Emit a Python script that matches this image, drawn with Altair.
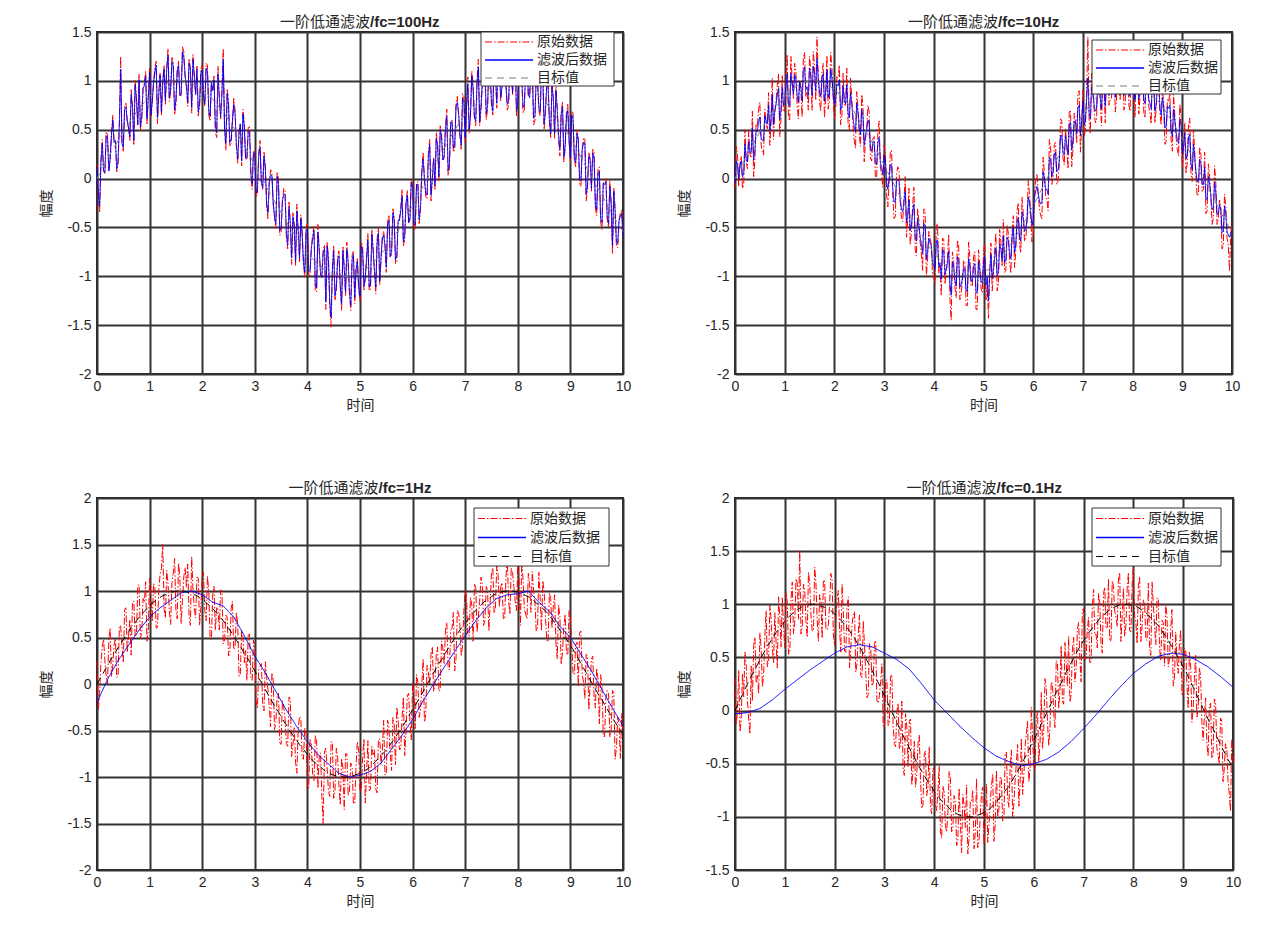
import altair as alt
import pandas as pd

# ---------------- data ----------------
RAW_STEP = 0.05    # sampling step of the noisy series and of the target (s)
MID_START = 0.025  # the *_MID samples lie half-way between the main samples

RAW_1 = [0.15, -0.35, 0.40, 0.05, 0.45, 0.20, 0.65, 0.39, 0.14, 1.25,
         0.28, 0.77, 0.51, 0.91, 0.34, 0.83, 1.07, 0.60, 0.98, 0.56,
         1.14, 0.77, 1.14, 0.56, 1.08, 1.00, 0.76, 1.33, 0.89, 1.19,
         0.75, 1.20, 0.85, 1.30, 0.94, 1.23, 0.67, 1.06, 1.15, 0.73,
         1.16, 0.74, 1.16, 0.59, 0.91, 0.48, 1.15, 0.61, 1.33, 0.29,
         0.80, 0.36, 0.82, 0.32, 0.48, 0.13, 0.58, 0.19, 0.54, -0.11,
         0.29, -0.16, 0.39, -0.11, 0.14, -0.41, 0.09, -0.26, -0.51, 0.00,
         -0.55, -0.10, -0.59, -0.24, -0.88, -0.47, -0.26, -0.85, -0.54, -1.02,
         -0.46, -0.99, -0.57, -1.15, -0.47, -0.99, -0.72, -1.34, -0.80, -1.52,
         -0.68, -1.14, -0.74, -1.35, -0.90, -0.65, -1.20, -0.79, -1.28, -0.82,
         -1.26, -0.69, -1.03, -0.56, -1.13, -0.71, -1.18, -0.50, -0.82, -0.54,
         -0.96, -0.37, -0.78, -0.39, -0.85, -0.41, -0.11, -0.62, -0.12, -0.42,
         -0.03, -0.53, -0.03, -0.33, 0.27, -0.18, 0.27, -0.23, 0.22, 0.47,
         -0.03, 0.46, 0.21, 0.71, 0.10, 0.60, 0.29, 0.84, 0.43, 0.87,
         0.36, 1.04, 0.63, 0.96, 0.54, 1.22, 0.70, 0.98, 0.60, 1.17,
         0.74, 1.26, 0.72, 1.13, 0.94, 1.25, 0.70, 1.20, 0.85, 1.29,
         0.74, 1.13, 0.67, 1.20, 0.84, 1.22, 0.55, 1.07, 0.70, 1.17,
         0.50, 0.97, 0.58, 1.00, 0.41, 0.72, 0.23, 0.79, 0.30, 0.76,
         0.16, 0.67, 0.12, 0.42, -0.08, 0.42, -0.23, 0.27, -0.13, 0.27,
         -0.38, 0.12, -0.52, -0.02, -0.42, -0.02, -0.77, -0.31, -0.71, -0.35, -0.59]
RAW_1_MID = [-0.18, 0.18, 0.08, 0.48, 0.08, 0.48, 0.37, 0.07, 0.56, 0.36,
             0.75, 0.59, 0.39, 0.73, 1.01, 0.55, 0.49, 0.92, 1.10, 0.83,
             0.61, 0.98, 1.20, 0.87, 0.64, 1.16, 1.12, 0.79, 1.24, 0.65,
             1.10, 0.85, 1.35, 1.05, 0.74, 1.13, 1.27, 0.86, 0.64, 1.12,
             0.85, 1.18, 0.65, 0.98, 1.05, 0.42, 0.83, 0.90, 0.51, 0.92,
             0.33, 0.59, 0.70, 0.15, 0.56, 0.71, 0.21, 0.52, 0.02, 0.27,
             -0.19, 0.27, -0.04, 0.27, -0.29, -0.04, 0.07, -0.39, 0.07, -0.58,
             -0.23, -0.12, -0.72, -0.46, -0.35, -0.89, -0.53, -0.37, -0.86, -0.49,
             -0.98, -0.71, -0.49, -1.16, -0.73, -1.01, -0.68, -0.65, -1.31, -0.93,
             -1.24, -0.79, -1.10, -0.70, -1.20, -0.85, -1.35, -0.74, -0.93, -1.12,
             -0.65, -1.14, -0.82, -1.15, -0.52, -0.95, -0.62, -1.09, -0.61, -0.68,
             -0.44, -0.80, -0.31, -0.87, -0.43, -0.29, -0.69, -0.25, -0.45, 0.00,
             -0.51, -0.06, -0.46, 0.10, 0.00, -0.21, 0.40, 0.00, -0.11, 0.35,
             0.54, 0.19, 0.54, 0.03, 0.58, 0.27, 0.77, 0.66, 0.30, 0.84,
             0.73, 0.46, 1.10, 0.63, 1.01, 0.54, 0.97, 1.14, 0.71, 1.08,
             0.65, 1.07, 1.23, 0.79, 1.35, 0.95, 0.75, 1.20, 1.15, 0.64,
             1.19, 1.03, 0.71, 1.25, 0.83, 1.16, 0.59, 1.01, 0.64, 1.11,
             0.69, 1.00, 0.42, 0.83, 0.94, 0.40, 0.66, 0.17, 0.68, 0.39,
             0.69, 0.20, 0.50, -0.06, 0.30, 0.40, -0.11, 0.20, 0.30, -0.31,
             0.10, -0.45, -0.05, 0.01, -0.50, -0.25, -0.09, -0.69, -0.43, -0.32]

FILT_1 = [0.12, -0.28, 0.36, 0.06, 0.41, 0.20, 0.60, 0.39, 0.18, 1.12,
          0.32, 0.73, 0.52, 0.86, 0.39, 0.81, 1.01, 0.63, 0.95, 0.61,
          1.09, 0.79, 1.09, 0.62, 1.06, 0.99, 0.80, 1.26, 0.91, 1.15,
          0.80, 1.16, 0.88, 1.24, 0.95, 1.18, 0.73, 1.04, 1.12, 0.77,
          1.11, 0.77, 1.10, 0.64, 0.90, 0.54, 1.07, 0.63, 1.22, 0.36,
          0.76, 0.40, 0.76, 0.35, 0.47, 0.18, 0.53, 0.21, 0.48, -0.05,
          0.26, -0.11, 0.32, -0.09, 0.10, -0.35, 0.04, -0.25, -0.46, -0.06,
          -0.51, -0.16, -0.56, -0.29, -0.81, -0.49, -0.33, -0.81, -0.57, -0.96,
          -0.52, -0.95, -0.62, -1.09, -0.55, -0.97, -0.76, -1.26, -0.83, -1.42,
          -0.74, -1.11, -0.79, -1.28, -0.92, -0.72, -1.16, -0.83, -1.22, -0.85,
          -1.20, -0.74, -1.01, -0.63, -1.08, -0.74, -1.11, -0.56, -0.81, -0.58,
          -0.91, -0.43, -0.75, -0.43, -0.79, -0.43, -0.18, -0.58, -0.17, -0.40,
          -0.08, -0.47, -0.06, -0.29, 0.20, -0.15, 0.22, -0.17, 0.20, 0.41,
          0.02, 0.42, 0.23, 0.64, 0.16, 0.57, 0.33, 0.78, 0.46, 0.82,
          0.42, 0.97, 0.65, 0.92, 0.59, 1.14, 0.73, 0.96, 0.66, 1.12,
          0.78, 1.20, 0.77, 1.10, 0.95, 1.20, 0.76, 1.16, 0.88, 1.23,
          0.79, 1.10, 0.73, 1.15, 0.86, 1.16, 0.62, 1.03, 0.73, 1.10,
          0.56, 0.93, 0.61, 0.94, 0.46, 0.70, 0.30, 0.74, 0.34, 0.70,
          0.21, 0.61, 0.16, 0.39, -0.02, 0.37, -0.16, 0.23, -0.10, 0.21,
          -0.32, 0.07, -0.45, -0.06, -0.39, -0.08, -0.69, -0.33, -0.66, -0.38, -0.58]
FILT_1_MID = [-0.14, 0.18, 0.08, 0.44, 0.08, 0.44, 0.37, 0.10, 0.56, 0.36,
              0.71, 0.59, 0.43, 0.73, 0.96, 0.55, 0.53, 0.92, 1.05, 0.83,
              0.65, 0.98, 1.16, 0.87, 0.68, 1.12, 1.12, 0.83, 1.20, 0.70,
              1.10, 0.85, 1.30, 1.05, 0.78, 1.13, 1.22, 0.86, 0.68, 1.08,
              0.85, 1.13, 0.69, 0.98, 1.01, 0.47, 0.83, 0.86, 0.51, 0.87,
              0.37, 0.59, 0.66, 0.20, 0.56, 0.66, 0.21, 0.48, 0.06, 0.27,
              -0.15, 0.23, -0.04, 0.23, -0.25, -0.04, 0.03, -0.39, 0.02, -0.53,
              -0.23, -0.16, -0.68, -0.46, -0.39, -0.85, -0.53, -0.41, -0.86, -0.53,
              -0.94, -0.71, -0.53, -1.12, -0.73, -1.01, -0.72, -0.69, -1.26, -0.93,
              -1.20, -0.83, -1.10, -0.74, -1.16, -0.85, -1.30, -0.78, -0.93, -1.12,
              -0.69, -1.10, -0.82, -1.11, -0.57, -0.95, -0.66, -1.05, -0.61, -0.68,
              -0.48, -0.80, -0.35, -0.83, -0.43, -0.33, -0.65, -0.25, -0.45, -0.04,
              -0.47, -0.06, -0.42, 0.06, 0.00, -0.17, 0.35, 0.00, -0.07, 0.35,
              0.50, 0.19, 0.50, 0.08, 0.58, 0.31, 0.73, 0.66, 0.34, 0.80,
              0.73, 0.50, 1.05, 0.63, 0.97, 0.58, 0.97, 1.10, 0.75, 1.08,
              0.69, 1.07, 1.19, 0.83, 1.30, 0.95, 0.79, 1.16, 1.15, 0.69,
              1.15, 1.03, 0.75, 1.20, 0.83, 1.12, 0.63, 1.01, 0.68, 1.06,
              0.69, 0.96, 0.46, 0.83, 0.90, 0.44, 0.66, 0.22, 0.64, 0.39,
              0.65, 0.20, 0.46, -0.01, 0.30, 0.36, -0.07, 0.20, 0.26, -0.27,
              0.06, -0.41, -0.05, -0.03, -0.46, -0.25, -0.13, -0.65, -0.43, -0.36]

RAW_2 = [-0.10, 0.25, 0.15, -0.10, 0.50, 0.10, 0.25, 0.69, 0.19, 0.53,
         0.78, 0.27, 0.71, 0.51, 0.34, 1.03, 0.67, 0.95, 0.43, 1.06,
         0.69, 1.27, 0.59, 1.01, 1.18, 0.75, 1.01, 0.63, 1.29, 0.89,
         1.25, 0.70, 1.15, 1.45, 0.79, 1.08, 0.62, 1.26, 0.80, 1.13,
         0.61, 1.04, 1.16, 0.64, 0.76, 1.13, 0.50, 0.81, 0.38, 0.89,
         0.45, 0.86, 0.17, 0.52, 0.68, 0.18, 0.43, -0.01, 0.59, 0.04,
         0.34, -0.16, -0.06, 0.29, -0.41, 0.04, 0.09, -0.41, -0.21, -0.60,
         -0.10, -0.55, -0.09, -0.79, -0.43, -0.77, -0.31, -1.00, -0.54, -0.67,
         -1.01, -0.49, -0.97, -1.20, -0.62, -0.94, -0.57, -1.45, -0.85, -1.22,
         -0.68, -1.19, -0.84, -1.30, -0.65, -1.10, -0.80, -1.34, -0.73, -1.12,
         -0.76, -1.24, -1.43, -0.66, -0.98, -0.56, -1.08, -0.65, -0.42, -0.94,
         -0.56, -0.97, -0.38, -0.74, -0.25, -0.76, -0.36, -0.62, -0.02, -0.37,
         -0.58, -0.03, -0.13, -0.38, 0.22, -0.18, -0.33, 0.32, 0.02, 0.37,
         -0.03, 0.61, 0.21, 0.51, 0.10, 0.70, 0.29, 0.59, 0.88, 0.27,
         0.91, 0.49, 1.45, 0.46, 0.94, 0.57, 1.15, 0.78, 1.10, 0.57,
         1.24, 0.81, 1.07, 0.68, 1.24, 0.80, 1.35, 0.75, 1.05, 0.69,
         1.19, 0.63, 1.27, 0.85, 1.19, 0.62, 1.05, 0.67, 1.20, 0.57,
         1.10, 0.67, 0.93, 0.35, 0.81, 0.87, 0.28, 0.64, 0.30, 0.76,
         0.11, 0.57, 0.17, 0.62, -0.03, 0.27, -0.18, 0.32, -0.13, 0.27,
         -0.33, 0.02, -0.47, 0.13, -0.47, -0.22, -0.72, -0.16, -0.61, -0.95, -0.44]
RAW_2_MID = [0.33, -0.08, 0.23, -0.08, 0.18, 0.48, 0.22, 0.02, 0.56, 0.71,
             0.35, 0.24, 0.59, 0.88, 0.56, 0.40, 0.79, 1.07, 0.60, 0.68,
             1.06, 0.63, 1.25, 0.82, 1.09, 0.61, 0.92, 1.24, 0.84, 0.70,
             1.10, 1.30, 0.80, 1.05, 0.69, 1.18, 0.82, 0.71, 1.29, 0.82,
             0.70, 1.03, 0.55, 1.08, 0.75, 0.57, 1.03, 0.55, 0.31, 0.72,
             0.33, 0.74, 0.40, 0.75, 0.21, 0.41, 0.01, 0.47, 0.12, -0.09,
             0.27, -0.29, 0.27, -0.19, -0.39, 0.12, -0.24, -0.44, 0.02, -0.43,
             -0.68, -0.27, -0.72, -0.31, -0.65, -0.94, -0.33, -0.82, -0.61, -0.99,
             -1.08, -0.46, -0.89, -0.61, -1.08, -0.81, -1.23, -0.75, -1.11, -0.63,
             -1.24, -1.04, -0.85, -1.30, -0.80, -1.10, -0.75, -1.34, -0.88, -1.17,
             -0.65, -1.09, -0.97, -1.15, -0.72, -1.15, -0.52, -0.89, -0.96, -0.48,
             -0.84, -0.55, -0.91, -0.32, -0.68, -0.19, -0.64, -0.45, -0.15, -0.65,
             -0.16, 0.05, -0.31, -0.41, 0.05, -0.21, 0.40, -0.06, 0.35, -0.06,
             0.14, 0.59, 0.14, 0.33, 0.68, 0.12, 0.67, 0.36, 0.90, 0.54,
             0.43, 0.91, 0.60, 1.08, 0.71, 0.59, 1.07, 0.54, 0.96, 1.18,
             0.75, 0.82, 1.33, 0.79, 0.95, 1.25, 0.70, 1.10, 0.75, 1.29,
             0.84, 1.18, 0.66, 1.05, 0.68, 1.21, 0.74, 0.56, 1.04, 0.71,
             1.14, 0.55, 0.77, 0.38, 0.79, 0.40, 0.86, 0.42, 0.23, 0.64,
             0.24, 0.05, 0.55, 0.05, 0.50, 0.00, -0.16, 0.25, -0.11, -0.36,
             0.15, -0.20, -0.40, -0.05, -0.40, -0.30, -0.69, -0.29, -0.68, -0.57]

FILT_2 = [-0.05, 0.15, 0.13, 0.02, 0.35, 0.17, 0.27, 0.52, 0.29, 0.48,
          0.63, 0.39, 0.64, 0.56, 0.49, 0.86, 0.69, 0.85, 0.60, 0.94,
          0.76, 1.07, 0.74, 0.96, 1.06, 0.85, 0.99, 0.80, 1.14, 0.94,
          1.13, 0.85, 1.08, 1.23, 0.89, 1.03, 0.79, 1.11, 0.87, 1.03,
          0.76, 0.97, 1.01, 0.74, 0.78, 0.96, 0.62, 0.76, 0.53, 0.77,
          0.52, 0.71, 0.34, 0.50, 0.56, 0.28, 0.38, 0.14, 0.42, 0.11,
          0.24, -0.04, -0.01, 0.14, -0.24, -0.03, -0.03, -0.31, -0.23, -0.45,
          -0.22, -0.48, -0.26, -0.64, -0.48, -0.67, -0.46, -0.83, -0.61, -0.69,
          -0.89, -0.64, -0.90, -1.03, -0.74, -0.92, -0.74, -1.19, -0.90, -1.10,
          -0.83, -1.09, -0.91, -1.15, -0.82, -1.05, -0.90, -1.17, -0.85, -1.05,
          -0.86, -1.09, -1.25, -0.78, -0.93, -0.71, -0.96, -0.72, -0.59, -0.84,
          -0.63, -0.82, -0.50, -0.67, -0.40, -0.64, -0.41, -0.52, -0.19, -0.35,
          -0.43, -0.13, -0.15, -0.26, 0.07, -0.11, -0.16, 0.20, 0.07, 0.27,
          0.09, 0.44, 0.26, 0.44, 0.25, 0.58, 0.39, 0.57, 0.73, 0.44,
          0.79, 0.59, 1.03, 0.61, 0.87, 0.69, 1.00, 0.83, 1.00, 0.74,
          1.09, 0.88, 1.02, 0.83, 1.12, 0.90, 1.18, 0.87, 1.03, 0.84,
          1.09, 0.80, 1.12, 0.90, 1.07, 0.77, 0.98, 0.77, 1.03, 0.69,
          0.95, 0.72, 0.83, 0.52, 0.74, 0.75, 0.43, 0.59, 0.40, 0.61,
          0.26, 0.47, 0.24, 0.45, 0.09, 0.22, -0.03, 0.20, -0.06, 0.12,
          -0.21, -0.05, -0.32, -0.04, -0.37, -0.27, -0.55, -0.28, -0.54, -0.60, -0.54]
FILT_2_MID = [0.18, 0.00, 0.18, 0.05, 0.20, 0.38, 0.27, 0.19, 0.49, 0.58,
              0.42, 0.39, 0.59, 0.75, 0.61, 0.55, 0.76, 0.92, 0.70, 0.75,
              0.96, 0.75, 1.08, 0.87, 1.02, 0.78, 0.94, 1.11, 0.91, 0.85,
              1.05, 1.15, 0.90, 1.02, 0.84, 1.07, 0.89, 0.83, 1.12, 0.87,
              0.80, 0.95, 0.70, 0.95, 0.77, 0.67, 0.88, 0.62, 0.48, 0.67,
              0.45, 0.64, 0.45, 0.60, 0.31, 0.38, 0.16, 0.37, 0.17, 0.04,
              0.19, -0.11, 0.14, -0.11, -0.24, -0.01, -0.21, -0.34, -0.13, -0.38,
              -0.53, -0.34, -0.59, -0.41, -0.60, -0.77, -0.48, -0.75, -0.66, -0.87,
              -0.93, -0.63, -0.86, -0.73, -0.98, -0.86, -1.08, -0.85, -1.04, -0.80,
              -1.11, -1.02, -0.92, -1.15, -0.90, -1.05, -0.87, -1.16, -0.93, -1.07,
              -0.80, -1.01, -0.95, -1.02, -0.80, -0.99, -0.67, -0.84, -0.86, -0.60,
              -0.77, -0.60, -0.76, -0.45, -0.60, -0.34, -0.54, -0.42, -0.24, -0.48,
              -0.20, -0.08, -0.23, -0.25, 0.00, -0.11, 0.22, 0.02, 0.25, 0.07,
              0.19, 0.44, 0.24, 0.35, 0.55, 0.29, 0.59, 0.46, 0.75, 0.59,
              0.55, 0.81, 0.67, 0.93, 0.76, 0.71, 0.97, 0.71, 0.94, 1.06,
              0.85, 0.89, 1.15, 0.89, 0.97, 1.13, 0.85, 1.05, 0.87, 1.14,
              0.91, 1.08, 0.81, 1.00, 0.80, 1.06, 0.81, 0.71, 0.94, 0.76,
              0.96, 0.65, 0.74, 0.53, 0.72, 0.50, 0.71, 0.47, 0.36, 0.54,
              0.32, 0.20, 0.42, 0.15, 0.35, 0.07, -0.03, 0.15, -0.06, -0.21,
              0.02, -0.18, -0.30, -0.15, -0.35, -0.32, -0.54, -0.36, -0.58, -0.55]

RAW_3 = [0.25, -0.10, 0.40, 0.25, 0.00, 0.60, 0.20, 0.49, 0.09, 0.63,
         0.23, 0.82, 0.51, 0.31, 0.89, 0.53, 1.07, 0.55, 0.88, 0.46,
         1.14, 0.67, 1.04, 0.61, 1.18, 1.50, 0.71, 1.08, 0.64, 1.19,
         0.80, 1.30, 0.65, 1.15, 1.04, 0.73, 1.37, 0.81, 1.15, 0.63,
         1.16, 0.79, 1.16, 0.49, 0.96, 0.58, 0.80, 1.01, 0.43, 0.74,
         0.30, 0.81, 0.37, 0.77, 0.08, 0.58, 0.23, 0.04, 0.54, 0.04,
         0.39, -0.26, 0.19, -0.21, 0.24, -0.06, -0.46, 0.04, -0.41, -0.10,
         -0.65, -0.25, -0.64, -0.14, -0.78, -0.47, -0.96, -0.35, -0.79, -0.47,
         -1.11, -0.59, -0.97, -0.55, -1.12, -0.74, -1.50, -0.69, -1.15, -0.62,
         -1.23, -0.69, -1.09, -0.80, -1.35, -0.75, -1.15, -0.89, -1.28, -0.62,
         -1.16, -0.79, -1.28, -0.61, -1.13, -0.76, -1.13, -0.60, -0.87, -0.39,
         -0.96, -0.47, -0.93, -0.44, -0.25, -0.71, -0.36, -0.77, -0.12, -0.42,
         0.02, -0.48, 0.02, -0.28, 0.27, -0.33, 0.12, 0.32, -0.08, 0.32,
         -0.08, 0.46, 0.21, 0.66, 0.15, 0.60, 0.14, 0.79, 0.63, 0.42,
         1.01, 0.54, 0.93, 0.46, 1.04, 0.72, 1.15, 0.63, 1.05, 0.57,
         1.19, 0.76, 1.27, 0.83, 1.09, 0.70, 1.35, 0.75, 1.20, 0.89,
         1.29, 0.63, 1.12, 0.75, 1.19, 0.77, 1.00, 0.57, 1.20, 0.57,
         1.00, 0.47, 0.98, 0.60, 0.96, 0.27, 0.73, 0.34, 0.75, 0.31,
         0.71, 0.12, 0.42, -0.03, 0.57, 0.02, 0.32, -0.28, 0.27, -0.13,
         0.17, -0.43, -0.02, -0.57, -0.07, -0.57, -0.07, -0.81, -0.36, -0.80, -0.49]
RAW_3_MID = [-0.28, 0.23, 0.48, 0.08, 0.48, 0.08, 0.42, 0.07, 0.61, 0.41,
             0.80, 0.34, 0.69, 0.88, 0.51, 1.05, 0.49, 0.92, 1.10, 0.58,
             0.91, 1.08, 0.60, 1.02, 1.24, 0.81, 1.22, 0.79, 1.09, 1.35,
             0.70, 1.15, 0.90, 1.25, 1.29, 0.63, 1.02, 0.71, 1.14, 0.82,
             1.20, 0.68, 1.00, 0.48, 1.05, 0.82, 0.58, 1.00, 0.46, 0.72,
             0.33, 0.89, 0.40, 0.65, 0.11, 0.51, 0.36, 0.52, 0.07, 0.47,
             -0.19, 0.17, 0.22, -0.29, 0.07, -0.24, 0.12, -0.49, -0.13, -0.63,
             -0.18, -0.37, -0.67, -0.16, -0.65, -0.84, -0.48, -0.37, -0.81, -0.54,
             -1.13, -0.66, -1.04, -0.61, -0.78, -1.21, -0.73, -0.90, -1.21, -0.63,
             -1.14, -0.79, -1.30, -0.90, -0.75, -1.20, -0.85, -1.29, -0.88, -0.72,
             -1.15, -0.59, -0.97, -1.15, -0.67, -0.70, -1.17, -0.59, -0.71, -0.98,
             -0.39, -0.75, -0.36, -0.87, -0.38, -0.69, -0.14, -0.50, -0.10, -0.60,
             -0.11, 0.10, -0.36, 0.00, -0.41, 0.20, 0.00, 0.40, 0.00, 0.40,
             -0.06, 0.39, 0.59, 0.18, 0.58, 0.77, 0.27, 0.76, 0.30, 0.79,
             0.93, 0.51, 0.85, 1.08, 0.56, 0.89, 1.07, 0.69, 1.01, 0.88,
             1.25, 0.82, 1.18, 1.04, 0.70, 1.15, 0.90, 1.25, 1.05, 0.79,
             1.09, 1.33, 0.81, 0.70, 1.08, 1.21, 0.89, 0.61, 0.94, 1.11,
             0.74, 0.45, 0.92, 0.83, 0.44, 0.85, 0.21, 0.62, 0.33, 0.79,
             0.44, 0.10, 0.45, 0.55, 0.10, -0.16, 0.30, 0.00, 0.30, -0.26,
             0.05, 0.10, -0.55, -0.15, -0.10, -0.50, -0.09, -0.69, -0.43, -0.32]

RAW_4 = [0.30, 0.00, -0.20, 0.35, 0.55, 0.10, -0.22, 0.09, 0.69, 0.33,
         0.73, 0.22, 0.71, 0.41, 0.99, 0.58, 0.92, 0.40, 0.88, 1.06,
         0.59, 1.02, 0.54, 1.21, 0.83, 1.20, 1.51, 0.78, 1.14, 0.69,
         1.20, 0.75, 1.35, 0.85, 1.09, 0.68, 1.22, 0.76, 1.00, 1.23,
         0.61, 1.04, 0.76, 1.19, 0.56, 0.98, 0.40, 0.81, 0.93, 0.44,
         0.90, 0.31, 0.62, 0.12, 0.63, 0.23, 0.63, 0.09, 0.14, 0.44,
         -0.16, 0.29, -0.11, 0.34, -0.31, -0.01, -0.36, 0.09, -0.61, -0.15,
         -0.10, -0.70, -0.29, -0.59, -0.23, -0.92, -0.41, -0.80, -0.34, -0.97,
         -0.56, -0.94, -0.52, -1.20, -0.77, -1.14, -0.57, -1.14, -0.80, -1.27,
         -0.73, -1.34, -0.89, -0.70, -1.20, -0.85, -1.30, -0.64, -1.23, -0.77,
         -1.26, -0.69, -1.08, -0.71, -1.23, -0.56, -0.93, -0.65, -1.02, -0.39,
         -0.91, -0.37, -0.88, -0.49, -0.90, -0.26, -0.61, -0.22, -0.67, 0.03,
         -0.53, -0.08, -0.48, 0.17, -0.18, 0.22, -0.33, 0.27, -0.03, 0.47,
         0.02, 0.61, 0.06, 0.46, 0.70, 0.15, 0.69, 0.39, 0.83, 0.27,
         0.96, 0.49, 0.88, 0.46, 1.14, 0.72, 1.10, 0.63, 1.10, 0.77,
         1.24, 0.66, 1.17, 0.88, 1.24, 0.65, 1.15, 0.80, 1.30, 0.74,
         1.34, 0.83, 1.17, 0.65, 1.04, 0.67, 1.20, 0.52, 1.00, 0.62,
         1.05, 0.47, 0.83, 1.00, 0.41, 0.77, 0.23, 0.74, 0.35, 0.76,
         0.16, 0.57, 0.02, 0.42, 0.02, 0.52, 0.02, 0.32, -0.28, 0.12,
         -0.43, 0.07, -0.42, 0.08, -0.42, -0.07, -0.67, -0.31, -0.66, -0.95, -0.49]
RAW_4_MID = [-0.13, 0.38, -0.08, 0.13, 0.43, -0.08, 0.42, 0.62, 0.26, 0.16,
             0.60, 0.34, 0.94, 0.48, 0.86, 0.45, 0.64, 1.07, 0.60, 0.78,
             1.11, 0.53, 1.05, 0.72, 1.24, 0.86, 0.72, 1.19, 0.84, 1.30,
             0.90, 0.75, 1.20, 0.65, 1.04, 1.23, 0.77, 0.81, 1.29, 0.72,
             0.85, 1.13, 0.55, 0.93, 0.55, 1.07, 0.58, 0.90, 0.36, 0.72,
             0.33, 0.84, 0.35, 0.15, 0.61, 0.26, 0.66, 0.07, 0.27, -0.14,
             0.27, -0.14, 0.32, -0.14, -0.34, 0.07, -0.34, -0.54, -0.03, -0.53,
             -0.08, -0.57, -0.72, -0.31, -0.65, -0.89, -0.38, -0.72, -0.91, -0.54,
             -0.88, -0.76, -1.14, -0.71, -1.08, -0.96, -0.63, -1.10, -0.86, -1.23,
             -1.04, -0.79, -1.10, -1.35, -0.85, -0.75, -1.15, -1.29, -0.98, -0.72,
             -1.05, -1.24, -0.87, -0.60, -1.07, -1.00, -0.62, -1.04, -0.41, -0.83,
             -0.54, -1.00, -0.66, -0.32, -0.68, -0.79, -0.34, -0.10, -0.55, -0.25,
             -0.56, -0.01, -0.31, -0.36, 0.30, -0.11, -0.16, 0.25, -0.16, 0.45,
             0.19, 0.09, 0.64, 0.23, 0.08, 0.57, 0.27, 0.76, 0.50, 0.94,
             0.48, 0.76, 0.45, 0.98, 0.71, 0.59, 1.02, 0.54, 1.16, 0.78,
             0.65, 1.22, 0.93, 0.79, 1.30, 0.90, 0.70, 1.15, 0.75, 1.19,
             0.89, 0.63, 1.26, 0.80, 1.03, 0.66, 0.59, 1.21, 0.79, 1.06,
             0.59, 0.85, 0.42, 0.88, 0.49, 0.95, 0.31, 0.47, 0.63, 0.14,
             0.59, 0.25, 0.55, -0.11, 0.30, -0.06, 0.40, -0.11, -0.06, -0.31,
             0.05, -0.45, 0.11, -0.35, -0.50, -0.10, -0.54, -0.34, -0.78, -0.27]

F3_STEP = 0.2
FILT_3 = [-0.20, 0.05, 0.25, 0.42, 0.58, 0.72, 0.82, 0.90, 0.98, 1.00,
          0.96, 0.88, 0.84, 0.72, 0.52, 0.30, 0.12, -0.08, -0.28, -0.46,
          -0.62, -0.76, -0.86, -0.96, -1.00, -0.98, -0.94, -0.85, -0.70, -0.55,
          -0.38, -0.18, 0.00, 0.18, 0.35, 0.52, 0.68, 0.82, 0.92, 0.96,
          0.97, 1.00, 0.88, 0.78, 0.62, 0.50, 0.32, 0.14, -0.06, -0.26, -0.45]

F4_STEP = 0.25
FILT_4 = [-0.03, -0.02, 0.02, 0.10, 0.20, 0.29, 0.38, 0.46, 0.54, 0.60,
          0.62, 0.60, 0.54, 0.48, 0.39, 0.25, 0.10, -0.02, -0.14, -0.25,
          -0.35, -0.43, -0.48, -0.52, -0.50, -0.46, -0.39, -0.29, -0.17, -0.04,
          0.10, 0.23, 0.35, 0.44, 0.51, 0.54, 0.53, 0.48, 0.41, 0.32, 0.22]

TARGET = [0.00, 0.05, 0.10, 0.15, 0.20, 0.25, 0.30, 0.34, 0.39, 0.43,
          0.48, 0.52, 0.56, 0.61, 0.64, 0.68, 0.72, 0.75, 0.78, 0.81,
          0.84, 0.87, 0.89, 0.91, 0.93, 0.95, 0.96, 0.98, 0.99, 0.99,
          1.00, 1.00, 1.00, 1.00, 0.99, 0.98, 0.97, 0.96, 0.95, 0.93,
          0.91, 0.89, 0.86, 0.84, 0.81, 0.78, 0.75, 0.71, 0.68, 0.64,
          0.60, 0.56, 0.52, 0.47, 0.43, 0.38, 0.33, 0.29, 0.24, 0.19,
          0.14, 0.09, 0.04, -0.01, -0.06, -0.11, -0.16, -0.21, -0.26, -0.30,
          -0.35, -0.40, -0.44, -0.49, -0.53, -0.57, -0.61, -0.65, -0.69, -0.72,
          -0.76, -0.79, -0.82, -0.85, -0.87, -0.89, -0.92, -0.94, -0.95, -0.97,
          -0.98, -0.99, -0.99, -1.00, -1.00, -1.00, -1.00, -0.99, -0.98, -0.97,
          -0.96, -0.94, -0.93, -0.91, -0.88, -0.86, -0.83, -0.80, -0.77, -0.74,
          -0.71, -0.67, -0.63, -0.59, -0.55, -0.51, -0.46, -0.42, -0.37, -0.32,
          -0.28, -0.23, -0.18, -0.13, -0.08, -0.03, 0.02, 0.07, 0.12, 0.17,
          0.22, 0.26, 0.31, 0.36, 0.40, 0.45, 0.49, 0.54, 0.58, 0.62,
          0.66, 0.69, 0.73, 0.76, 0.79, 0.82, 0.85, 0.88, 0.90, 0.92,
          0.94, 0.96, 0.97, 0.98, 0.99, 1.00, 1.00, 1.00, 1.00, 0.99,
          0.99, 0.98, 0.97, 0.95, 0.94, 0.92, 0.90, 0.87, 0.85, 0.82,
          0.80, 0.77, 0.73, 0.70, 0.66, 0.62, 0.58, 0.54, 0.50, 0.46,
          0.41, 0.37, 0.32, 0.27, 0.22, 0.17, 0.12, 0.07, 0.02, -0.03,
          -0.08, -0.13, -0.17, -0.22, -0.27, -0.32, -0.37, -0.41, -0.46, -0.50, -0.54]

SERIES = ["原始数据", "滤波后数据", "目标值"]
TITLE_CN = "一阶低通滤波"
TITLE_FC = ["/fc=100Hz", "/fc=10Hz", "/fc=1Hz", "/fc=0.1Hz"]
X_TITLE = "时间"
Y_TITLE = "幅度"
X_TICKS = [0, 1, 2, 3, 4, 5, 6, 7, 8, 9, 10]
Y_TICKS_TOP = [-2, -1.5, -1, -0.5, 0, 0.5, 1, 1.5]
Y_TICKS_3 = [-2, -1.5, -1, -0.5, 0, 0.5, 1, 1.5, 2]
Y_TICKS_4 = [-1.5, -1, -0.5, 0, 0.5, 1, 1.5, 2]

CJK = "Noto Sans CJK SC"
LAT = "Liberation Sans"
TXT = "#262626"
RED = "#ff0000"
BLUE = "#0000ff"
DASHES = [[7, 2, 1.5, 2], [1, 0], [7, 5]]


def frame(values, start, step, name):
    return pd.DataFrame({
        "t": [round(start + k * step, 3) for k in range(len(values))],
        "y": values,
        "series": name,
    })


def legend_layers(target_color, box):
    """Key box drawn inside the plot: box = (left, top, width, height, row pitch)."""
    lx, ly, bw, bh, pitch = box
    anchor = pd.DataFrame({"k": [0]})
    rows = [ly + pitch * (i + 0.5) + 1 for i in range(3)]
    layers = [alt.Chart(anchor).mark_rect(fill="white", stroke="#333333", strokeWidth=1).encode(
        x=alt.value(lx), x2=alt.value(lx + bw), y=alt.value(ly), y2=alt.value(ly + bh))]
    # raw data key: red dash-dot
    layers.append(alt.Chart(anchor).mark_rule(stroke=RED, strokeWidth=1.2, strokeDash=DASHES[0])
                  .encode(x=alt.value(lx + 4), x2=alt.value(lx + 52), y=alt.value(rows[0])))
    # filtered data key: solid blue bar
    layers.append(alt.Chart(anchor).mark_rect(fill=BLUE, strokeWidth=0)
                  .encode(x=alt.value(lx + 4), x2=alt.value(lx + 52),
                          y=alt.value(rows[1] - 0.7), y2=alt.value(rows[1] + 0.7)))
    # target key: dashed
    layers.append(alt.Chart(anchor).mark_rule(stroke=target_color, strokeWidth=1.2,
                                              strokeDash=DASHES[2])
                  .encode(x=alt.value(lx + 4), x2=alt.value(lx + 52), y=alt.value(rows[2])))
    for i, name in enumerate(SERIES):
        layers.append(alt.Chart(anchor).mark_text(
            text=name, font=CJK, fontSize=14, align="left", baseline="middle", color=TXT
        ).encode(x=alt.value(lx + 56), y=alt.value(rows[i])))
    return layers


def panel(idx, raw, raw_mid, filt, filt_mid, filt_step, width, height, y_dom, y_ticks,
          target_color, box, split):
    parts = [frame(raw, 0, RAW_STEP, SERIES[0]), frame(raw_mid, MID_START, RAW_STEP, SERIES[0]),
             frame(filt, 0, filt_step, SERIES[1])]
    if filt_mid is not None:
        parts.append(frame(filt_mid, MID_START, RAW_STEP, SERIES[1]))
    parts.append(frame(TARGET, 0, RAW_STEP, SERIES[2]))
    data = pd.concat(parts, ignore_index=True)
    colors = [RED, BLUE, target_color]

    x_axis = alt.Axis(
        values=X_TICKS, title=X_TITLE, titleFont=CJK, titleFontSize=14,
        titleFontWeight="normal", titleColor=TXT, titlePadding=5,
        labelFont=LAT, labelFontSize=14, labelColor=TXT, labelPadding=5,
        labelFlush=False, labelOverlap=False, ticks=False, domain=False,
        grid=True, gridColor="#333333", gridWidth=2, gridOpacity=1,
        labelExpr="'' + datum.value",
    )
    y_axis = alt.Axis(
        values=y_ticks, title=Y_TITLE, titleFont=CJK, titleFontSize=14,
        titleFontWeight="normal", titleColor=TXT, titlePadding=14,
        labelFont=LAT, labelFontSize=14, labelColor=TXT, labelPadding=6,
        labelOverlap=False, ticks=False, domain=False, minExtent=30, maxExtent=30,
        grid=True, gridColor="#333333", gridWidth=2, gridOpacity=1,
        labelExpr="'' + datum.value",
    )

    lines = alt.Chart(data).mark_line(strokeWidth=1).encode(
        x=alt.X("t:Q", scale=alt.Scale(domain=[0, 10], nice=False, zero=False), axis=x_axis),
        y=alt.Y("y:Q", scale=alt.Scale(domain=y_dom, nice=False, zero=False), axis=y_axis),
        color=alt.Color("series:N", scale=alt.Scale(domain=SERIES, range=colors), legend=None),
        strokeDash=alt.StrokeDash("series:N", scale=alt.Scale(domain=SERIES, range=DASHES),
                                  legend=None),
        detail="series:N",
        order="t:Q",
    )

    anchor = pd.DataFrame({"k": [0]})
    t_cn = alt.Chart(anchor).mark_text(
        text=TITLE_CN, font=CJK, fontSize=15, align="right", baseline="middle", color=TXT
    ).encode(x=alt.value(width / 2 + split), y=alt.value(-10))
    t_fc = alt.Chart(anchor).mark_text(
        text=TITLE_FC[idx], font=LAT, fontSize=15, fontWeight="bold", align="left",
        baseline="middle", color=TXT
    ).encode(x=alt.value(width / 2 + split), y=alt.value(-10))

    return alt.layer(lines, *legend_layers(target_color, box), t_cn, t_fc).properties(
        width=width, height=height)


p1 = panel(0, RAW_1, RAW_1_MID, FILT_1, FILT_1_MID, RAW_STEP, 526, 342, [-2, 1.5],
           Y_TICKS_TOP, "#7f7f7f", (384, 0, 133, 54, 18), 10)
p2 = panel(1, RAW_2, RAW_2_MID, FILT_2, FILT_2_MID, RAW_STEP, 497, 342, [-2, 1.5],
           Y_TICKS_TOP, "#7f7f7f", (357, 8, 129, 54, 18), 14.5)
p3 = panel(2, RAW_3, RAW_3_MID, FILT_3, None, F3_STEP, 526, 372, [-2, 2],
           Y_TICKS_3, "#000000", (377, 10, 135, 58, 19), 18.5)
p4 = panel(3, RAW_4, RAW_4_MID, FILT_4, None, F4_STEP, 498, 372, [-1.5, 2],
           Y_TICKS_4, "#000000", (357, 10, 129, 58, 19), 12.5)

chart = alt.concat(
    p1, p2, p3, p4, columns=2, spacing={"row": 124, "column": 112}, bounds="flush"
).resolve_scale(
    x="independent", y="independent", color="independent", strokeDash="independent"
).properties(
    padding={"left": 30, "top": 6, "right": 10, "bottom": 10}
).configure_view(
    stroke="#262626", strokeWidth=2
)

chart.save("out.html", embed_options={"renderer": "svg", "actions": False})
